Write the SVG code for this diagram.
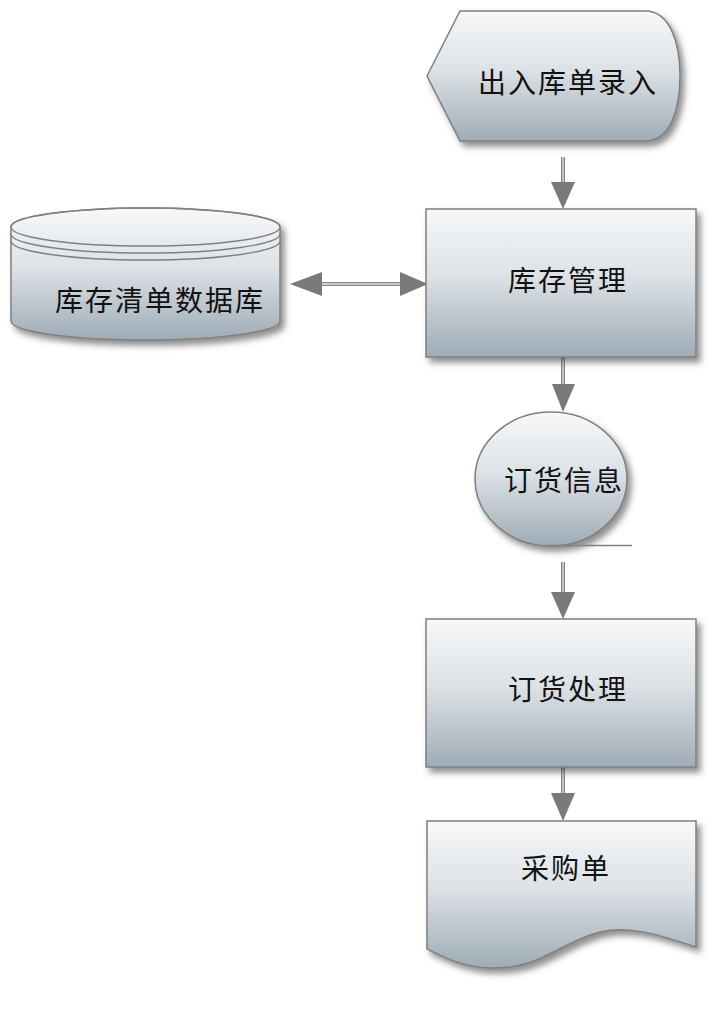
<svg xmlns="http://www.w3.org/2000/svg" width="727" height="1022" viewBox="0 0 727 1022">
<defs>
<linearGradient id="g" x1="0" y1="0" x2="0" y2="1">
<stop offset="0" stop-color="#f7f8f9"/>
<stop offset="0.45" stop-color="#dde2e6"/>
<stop offset="1" stop-color="#9eacb6"/>
</linearGradient>
<filter id="sh" x="-10%" y="-10%" width="125%" height="130%">
<feDropShadow dx="4" dy="5" stdDeviation="3" flood-color="#444" flood-opacity="0.6"/>
</filter>
<marker id="ah" viewBox="0 0 24 28" refX="24" refY="14" markerWidth="24" markerHeight="28" markerUnits="userSpaceOnUse" orient="auto-start-reverse">
<path d="M0,2 L24,14 L0,26 Z" fill="#7a7a7a"/>
</marker>
</defs>
<style>
.shape{fill:url(#g);stroke:#808080;stroke-width:1.5;filter:url(#sh)}
.rim{fill:none;stroke:#808080;stroke-width:1.5}
.lbl{font-family:"Noto Sans CJK SC",sans-serif;font-size:28px;fill:#111;text-anchor:middle;dominant-baseline:central;letter-spacing:2px}
.cOut{stroke:#858585;stroke-width:4;fill:none}
.cIn{stroke:#e4e4e4;stroke-width:1.3;fill:none}
</style>

<g id="connectors">
<line class="cOut" x1="563" y1="157" x2="563" y2="185"/>
<line class="cIn" x1="563" y1="157" x2="563" y2="185"/>
<path d="M551,182 L575,182 L563,209 Z" fill="#7a7a7a"/>

<line class="cOut" x1="563" y1="357" x2="563" y2="386"/>
<line class="cIn" x1="563" y1="359" x2="563" y2="386"/>
<path d="M552,384 L575,384 L563,412 Z" fill="#7a7a7a"/>

<line class="cOut" x1="563" y1="562" x2="563" y2="594"/>
<line class="cIn" x1="563" y1="562" x2="563" y2="594"/>
<path d="M551,592 L575,592 L563,619 Z" fill="#7a7a7a"/>

<line class="cOut" x1="563" y1="767" x2="563" y2="795"/>
<line class="cIn" x1="563" y1="769" x2="563" y2="795"/>
<path d="M551,793 L575,793 L563,821 Z" fill="#7a7a7a"/>

<line class="cOut" x1="318" y1="284" x2="404" y2="284"/>
<line class="cIn" x1="318" y1="284" x2="404" y2="284"/>
<path d="M322,272 L322,296 L290,284 Z" fill="#7a7a7a"/>
<path d="M400,272 L400,296 L428,284 Z" fill="#7a7a7a"/>
</g>

<g id="n_entry">
<path class="shape" d="M427,76 L460,11 L645,11 C671,11 680,45 680,76 C680,108 671,141 645,141 L460,141 Z"/>
<text class="lbl" x="568" y="81">出入库单录入</text>
</g>

<g id="n_inventory">
<rect class="shape" x="426" y="209" width="270" height="148"/>
<text class="lbl" x="568" y="279">库存管理</text>
</g>

<g id="n_db">
<path class="shape" d="M11,227 A134.5,19 0 0 1 280,227 L280,321 A134.5,19 0 0 1 11,321 Z"/>
<ellipse class="rim" cx="145.5" cy="227" rx="134.5" ry="19"/>
<path class="rim" d="M11,234 A134.5,19 0 0 0 280,234"/>
<path class="rim" d="M11,241 A134.5,19 0 0 0 280,241"/>
<text class="lbl" x="160" y="299">库存清单数据库</text>
</g>

<g id="n_orderinfo">
<ellipse class="shape" cx="551" cy="479" rx="76" ry="67"/>
<line x1="545" y1="545.5" x2="632" y2="545.5" stroke="#808080" stroke-width="1.5"/>
<text class="lbl" x="564" y="479">订货信息</text>
</g>

<g id="n_orderproc">
<rect class="shape" x="426" y="619" width="270" height="148"/>
<text class="lbl" x="568" y="688">订货处理</text>
</g>

<g id="n_po">
<path class="shape" d="M427,821 L696,821 L696,947 C660,935 630,925 600,932 C560,942 540,970 490,968 C460,967 440,955 427,949 Z"/>
<text class="lbl" x="566" y="867">采购单</text>
</g>
</svg>
